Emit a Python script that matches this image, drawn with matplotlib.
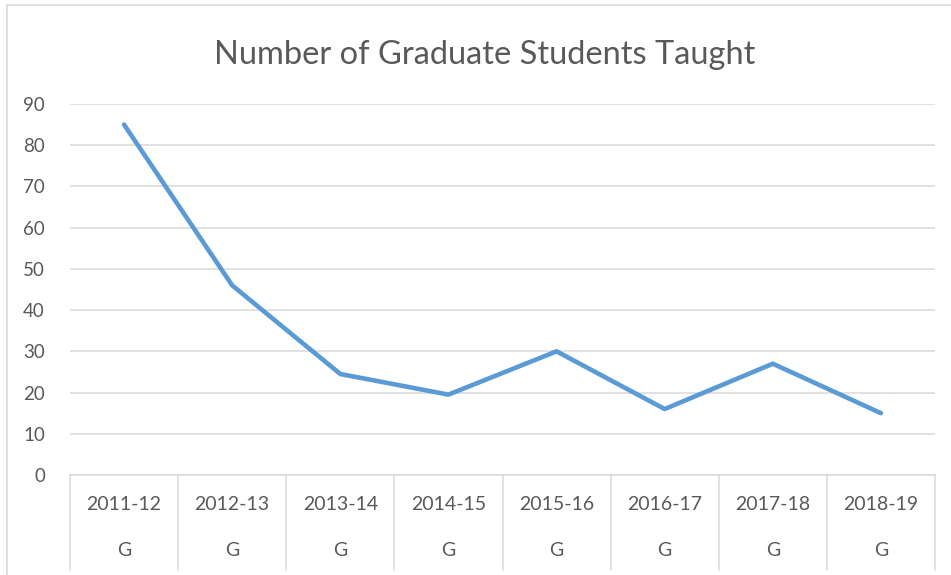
import matplotlib.pyplot as plt
import matplotlib.transforms as mtransforms
from matplotlib.patches import Rectangle

# data
years = ["2011-12", "2012-13", "2013-14", "2014-15", "2015-16", "2016-17", "2017-18", "2018-19"]
level = ["G"] * 8
students = [85, 46, 24.5, 19.5, 30, 16, 27, 15]
yticks = [0, 10, 20, 30, 40, 50, 60, 70, 80, 90]

plt.rcParams['font.family'] = ['Lato', 'DejaVu Sans']

W, H = 951, 575
fig = plt.figure(figsize=(W / 100, H / 100), dpi=100)

# outer chart border
fig.patches.append(Rectangle((7 / W, -0.01), 1.0, 1 - 5 / H + 0.01, transform=fig.transFigure,
                             fill=False, edgecolor='#d9d9d9', linewidth=1.2))

left, right, top, bottom = 70, 935, 104, 475
ax = fig.add_axes([left / W, 1 - bottom / H, (right - left) / W, (bottom - top) / H])
axh = bottom - top

x = list(range(len(years)))
ax.plot(x, students, color='#5b9bd5', linewidth=3.3, solid_capstyle='round', zorder=3)

ax.set_xlim(-0.5, len(years) - 0.5)
ax.set_ylim(0, 90)
ax.set_yticks(yticks)
ax.set_yticklabels([str(t) for t in yticks], fontsize=13.5, color='#595959')
ax.tick_params(axis='y', length=0, pad=18)
ax.set_xticks([])
ax.grid(axis='y', color='#d9d9d9', linewidth=1.1)
ax.set_axisbelow(True)
for s in ['top', 'right', 'left']:
    ax.spines[s].set_visible(False)
ax.spines['bottom'].set_color('#d9d9d9')
ax.spines['bottom'].set_linewidth(1.1)

# category table below the axis
trans = mtransforms.blended_transform_factory(ax.transData, ax.transAxes)
for b in range(len(years) + 1):
    ax.plot([b - 0.5, b - 0.5], [0, -95 / axh], transform=trans, color='#d9d9d9',
            linewidth=1.1, clip_on=False)
for i in x:
    ax.text(i, -30 / axh, years[i], transform=trans, ha='center', va='center',
            fontsize=14, color='#595959')
    ax.text(i, -75 / axh, level[i], transform=trans, ha='center', va='center',
            fontsize=14, color='#595959')

fig.text(485 / W, 1 - 55 / H, "Number of Graduate Students Taught", ha='center', va='center',
         fontsize=23.5, color='#595959')

fig.savefig("out.png", dpi=100)
